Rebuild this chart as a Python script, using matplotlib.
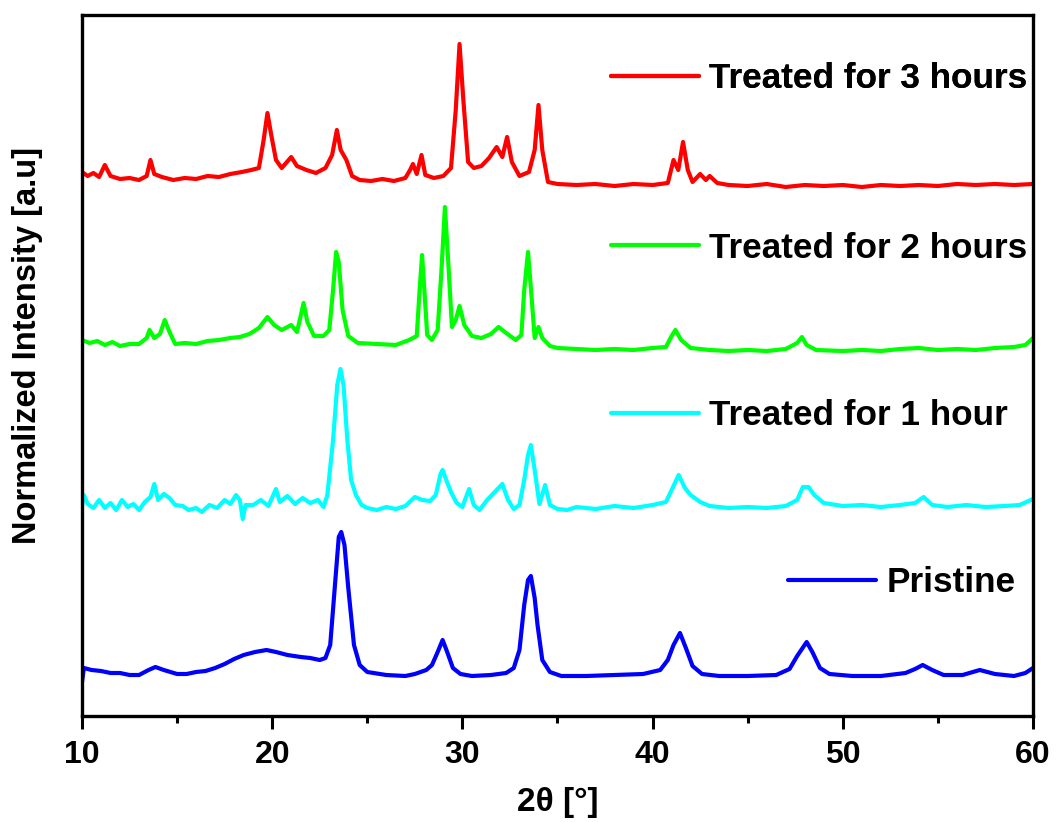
"""XRD patterns of pristine and treated samples, stacked with offsets."""
import matplotlib
matplotlib.use("Agg")
import matplotlib.pyplot as plt
from matplotlib.ticker import MultipleLocator

plt.rcParams["font.family"] = ["Liberation Sans", "DejaVu Sans"]
plt.rcParams["font.weight"] = "bold"
plt.rcParams["axes.labelweight"] = "bold"

# 2-theta (deg) and offset intensity (a.u.)
PRISTINE_2THETA = [
    10.0, 10.1, 10.5, 11.0, 11.5, 12.0, 12.5, 13.0, 13.5, 13.86,
    14.3, 15.0, 15.5, 16.0, 16.5, 17.0, 17.5, 18.0, 18.5, 19.1,
    19.7, 20.2, 20.8, 21.5, 22.0, 22.5, 22.8, 23.05, 23.3, 23.5,
    23.63, 23.8, 24.0, 24.3, 24.6, 25.0, 26.0, 27.0, 27.5, 28.1,
    28.4, 28.7, 28.96, 29.2, 29.5, 29.9, 30.5, 31.5, 32.3, 32.7,
    33.0, 33.25, 33.45, 33.6, 33.8, 33.95, 34.2, 34.6, 35.2, 36.5,
    38.0, 39.5, 40.4, 40.8, 41.1, 41.44, 41.75, 42.1, 42.6, 43.5,
    45.0, 46.5, 47.2, 47.6, 48.1, 48.4, 48.8, 49.3, 50.5, 52.0,
    53.3, 53.8, 54.2, 54.7, 55.3, 56.3, 57.2, 58.0, 59.0, 59.6, 60.0,
]
PRISTINE_INT = [
    34, 48, 46, 45, 43, 43, 41, 41, 46, 49,
    46, 42, 42, 44, 45, 48, 52, 57, 61, 64,
    66, 64, 61, 59, 58, 56, 58, 71, 131, 179,
    184, 171, 128, 71, 51, 44, 41, 40, 42, 46,
    51, 64, 76, 64, 48, 42, 40, 41, 43, 48,
    66, 111, 136, 140, 118, 91, 56, 44, 40, 40,
    41, 42, 46, 56, 71, 83, 68, 50, 42, 40,
    40, 41, 47, 60, 74, 64, 48, 42, 40, 40,
    43, 47, 51, 46, 41, 41, 46, 42, 40, 43, 48,
]

HOUR1_2THETA = [
    10.0, 10.1, 10.3, 10.6, 10.9, 11.2, 11.5, 11.8, 12.1, 12.4,
    12.7, 13.0, 13.3, 13.6, 13.8, 14.0, 14.3, 14.6, 14.9, 15.3,
    15.6, 16.0, 16.3, 16.7, 17.1, 17.5, 17.8, 18.1, 18.3, 18.45,
    18.6, 19.0, 19.4, 19.8, 20.2, 20.4, 20.8, 21.2, 21.6, 22.0,
    22.4, 22.7, 22.9, 23.2, 23.42, 23.59, 23.75, 23.95, 24.15, 24.4,
    24.7, 25.0, 25.5, 26.0, 26.5, 27.0, 27.5, 27.9, 28.3, 28.6,
    28.85, 28.96, 29.15, 29.4, 29.7, 30.0, 30.35, 30.6, 30.9, 31.3,
    31.7, 32.1, 32.4, 32.7, 33.0, 33.25, 33.45, 33.6, 33.8, 34.05,
    34.35, 34.6, 35.0, 35.5, 36.0, 37.0, 38.0, 39.0, 40.0, 40.7,
    41.0, 41.37, 41.7, 42.0, 42.5, 43.0, 44.0, 45.0, 46.0, 47.0,
    47.6, 47.9, 48.2, 48.5, 49.0, 50.0, 51.0, 52.0, 53.0, 53.8,
    54.25, 54.7, 55.5, 56.5, 57.5, 58.5, 59.3, 60.0,
]
HOUR1_INT = [
    210, 221, 212, 208, 216, 208, 213, 206, 216, 209,
    212, 206, 214, 219, 232, 216, 222, 218, 211, 210,
    206, 208, 204, 211, 208, 216, 212, 221, 216, 197,
    211, 211, 216, 210, 227, 214, 220, 212, 218, 213,
    216, 209, 221, 276, 331, 347, 331, 276, 236, 221,
    211, 208, 206, 209, 207, 210, 219, 216, 215, 221,
    242, 246, 236, 224, 213, 209, 227, 211, 206, 216,
    224, 232, 216, 207, 211, 236, 261, 271, 246, 212,
    231, 211, 207, 206, 209, 207, 210, 208, 211, 214,
    226, 241, 228, 221, 214, 210, 208, 209, 208, 210,
    216, 229, 229, 221, 213, 210, 211, 209, 211, 213,
    219, 211, 209, 211, 209, 210, 211, 217,
]

HOUR2_2THETA = [
    10.0, 10.4, 10.8, 11.2, 11.6, 12.0, 12.5, 13.0, 13.4, 13.55,
    13.8, 14.1, 14.35, 14.6, 14.9, 15.4, 16.0, 16.6, 17.2, 17.8,
    18.3, 18.8, 19.3, 19.75, 20.1, 20.5, 21.0, 21.3, 21.45, 21.65,
    21.85, 22.2, 22.7, 23.0, 23.2, 23.36, 23.5, 23.7, 24.0, 24.5,
    25.5, 26.5, 27.2, 27.6, 27.75, 27.88, 28.0, 28.15, 28.4, 28.7,
    28.9, 29.08, 29.25, 29.45, 29.65, 29.85, 30.1, 30.5, 31.0, 31.5,
    31.9, 32.3, 32.8, 33.1, 33.25, 33.45, 33.65, 33.8, 34.0, 34.2,
    34.6, 35.0, 36.0, 37.0, 38.0, 39.0, 40.0, 40.7, 41.0, 41.2,
    41.5, 42.0, 43.0, 44.0, 45.0, 46.0, 47.0, 47.6, 47.85, 48.1,
    48.6, 50.0, 51.0, 52.0, 53.0, 54.0, 55.0, 56.0, 57.0, 58.0,
    59.0, 59.6, 60.0,
]
HOUR2_INT = [
    376, 373, 375, 371, 374, 370, 372, 372, 378, 386,
    378, 382, 396, 384, 372, 373, 372, 375, 376, 378,
    379, 382, 388, 399, 391, 386, 391, 384, 396, 413,
    394, 380, 380, 386, 426, 464, 454, 406, 380, 373,
    372, 371, 376, 380, 426, 461, 426, 381, 376, 386,
    446, 509, 456, 389, 396, 410, 391, 380, 378, 382,
    389, 383, 376, 381, 426, 464, 416, 378, 389, 378,
    370, 368, 367, 366, 367, 366, 368, 369, 380, 386,
    376, 368, 366, 365, 366, 365, 367, 373, 379, 371,
    366, 365, 366, 365, 367, 368, 366, 367, 366, 368,
    369, 371, 378,
]

HOUR3_2THETA = [
    10.0, 10.3, 10.6, 10.9, 11.2, 11.5, 12.0, 12.5, 13.0, 13.4,
    13.6, 13.8, 14.2, 14.8, 15.4, 16.0, 16.6, 17.2, 17.8, 18.4,
    18.9, 19.3, 19.55, 19.75, 19.95, 20.2, 20.5, 21.0, 21.3, 21.8,
    22.3, 22.8, 23.15, 23.4, 23.6, 23.9, 24.2, 24.6, 25.2, 25.8,
    26.4, 27.0, 27.25, 27.4, 27.6, 27.85, 28.05, 28.5, 29.0, 29.4,
    29.65, 29.85, 30.05, 30.3, 30.6, 31.0, 31.4, 31.8, 32.1, 32.35,
    32.6, 33.0, 33.5, 33.8, 34.0, 34.2, 34.5, 35.0, 36.0, 37.0,
    38.0, 39.0, 40.0, 40.8, 41.1, 41.35, 41.6, 41.85, 42.1, 42.5,
    42.8, 43.0, 43.4, 44.0, 45.0, 46.0, 47.0, 48.0, 49.0, 50.0,
    51.0, 52.0, 53.0, 54.0, 55.0, 56.0, 57.0, 58.0, 59.0, 60.0,
]
HOUR3_INT = [
    544, 540, 543, 539, 551, 540, 537, 538, 536, 540,
    556, 542, 539, 536, 538, 537, 540, 539, 542, 544,
    546, 548, 576, 603, 581, 556, 548, 559, 550, 546,
    543, 548, 561, 586, 566, 556, 540, 536, 535, 537,
    535, 538, 546, 552, 542, 561, 541, 538, 540, 548,
    606, 672, 616, 554, 548, 550, 558, 569, 559, 579,
    554, 540, 544, 566, 611, 566, 534, 532, 531, 532,
    530, 532, 531, 533, 556, 546, 574, 546, 534, 542,
    536, 540, 533, 531, 530, 532, 529, 531, 530, 531,
    529, 531, 530, 531, 530, 532, 531, 532, 531, 532,
]

SERIES = [
    ("Pristine", PRISTINE_2THETA, PRISTINE_INT, "#0000FF"),
    ("Treated for 1 hour", HOUR1_2THETA, HOUR1_INT, "#00FFFF"),
    ("Treated for 2 hours", HOUR2_2THETA, HOUR2_INT, "#00FF00"),
    ("Treated for 3 hours", HOUR3_2THETA, HOUR3_INT, "#FF0000"),
]
# where each inline label sits (figure fraction, left end of its line sample)
LABEL_ANCHORS = [(0.744, 0.291), (0.577, 0.494), (0.577, 0.698), (0.577, 0.904)]


def main() -> None:
    fig = plt.figure(figsize=(10.59, 8.22), dpi=100)
    ax = fig.add_axes([82 / 1059, 106 / 822, 951 / 1059, 701 / 822])

    lines = []
    for name, theta, inten, color in SERIES:
        (line,) = ax.plot(theta, inten, color=color, lw=3.0, label=name,
                          solid_joinstyle="round", solid_capstyle="round")
        lines.append(line)

    for line, anchor in zip(lines, LABEL_ANCHORS):
        leg = ax.legend([line], [line.get_label()], loc="center left",
                        bbox_to_anchor=anchor, bbox_transform=fig.transFigure,
                        frameon=False, fontsize=25.3, handlelength=2.5,
                        handletextpad=0.3, borderpad=0, borderaxespad=0)
        ax.add_artist(leg)

    ax.set_xlim(10, 60)
    ax.set_ylim(0, 701)
    ax.xaxis.set_major_locator(MultipleLocator(10))
    ax.xaxis.set_minor_locator(MultipleLocator(5))
    ax.set_yticks([])
    ax.tick_params(axis="x", which="major", direction="out", length=9.5,
                   width=2.2, labelsize=23, pad=8)
    ax.tick_params(axis="x", which="minor", direction="out", length=5, width=2.2)
    for spine in ax.spines.values():
        spine.set_linewidth(2.4)

    ax.set_xlabel("2θ [°]", fontsize=24, fontweight="bold", labelpad=12)
    fig.text(28 / 1059, 1 - 345 / 822, "Normalized Intensity [a.u]",
             rotation=90, ha="center", va="center", fontsize=23.5,
             fontweight="bold")

    fig.savefig("out.png", dpi=100)
    plt.close(fig)


if __name__ == "__main__":
    main()
